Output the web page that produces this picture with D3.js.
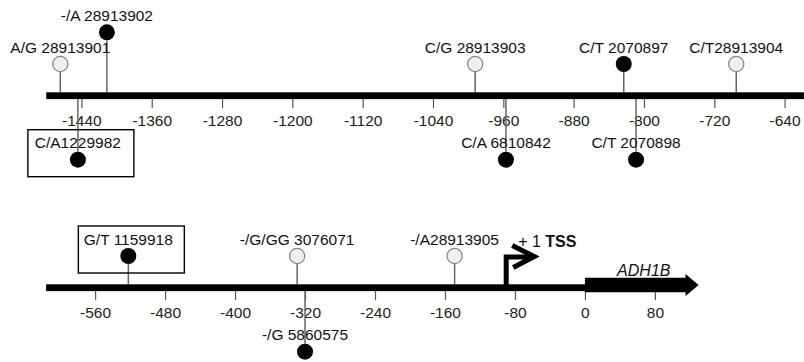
<!DOCTYPE html>
<html>
<head>
<meta charset="utf-8">
<script src="https://cdn.jsdelivr.net/npm/d3@7"></script>
<style>
  html, body { margin: 0; padding: 0; background: #fff; }
  svg { display: block; }
  text { font-family: Arial, "Liberation Sans", sans-serif; }
</style>
</head>
<body>
<svg id="chart" width="804" height="362"></svg>
<script>
// ---------- DATA ----------
const topTicks = [-1440, -1360, -1280, -1200, -1120, -1040, -960, -880, -800, -720, -640];
const bottomTicks = [-560, -480, -400, -320, -240, -160, -80, 0, 80];

const topExtent = [-1480, -618];
const bottomExtent = [-616, 1];

// SNPs: label, position, side (up/down), filled, lane (stacking row), boxed
const topSnpLabels = ["A/G 28913901", "-/A 28913902", "C/A1229982", "C/G 28913903", "C/T 2070897", "C/T28913904", "C/A 6810842", "C/T 2070898"];
const topSnpPos    = [-1464, -1411, -1444, -992, -823, -695, -957, -809];
const topSnpSide   = ["up", "up", "down", "up", "up", "up", "down", "down"];
const topSnpFilled = [false, true, true, false, true, false, true, true];
const topSnpLane   = [1, 2, 1, 1, 1, 1, 1, 1];
const topSnpBoxed  = [false, false, true, false, false, false, false, false];

const bottomSnpLabels = ["G/T 1159918", "-/G/GG 3076071", "-/G 5860575", "-/A28913905"];
const bottomSnpPos    = [-522, -329, -320, -149];
const bottomSnpSide   = ["up", "up", "down", "up"];
const bottomSnpFilled = [true, false, true, false];
const bottomSnpLane   = [1, 1, 1, 1];
const bottomSnpBoxed  = [true, false, false, false];

const tssPos = -90;
const tssLabel = ["+ 1 ", "TSS"];
const gene = { name: "ADH1B", start: 0, headStart: 115, end: 130 };

// ---------- DRAW ----------
const svg = d3.select("#chart");

const xTop = d3.scaleLinear().domain([-1440, -640]).range([81.4, 784.6]);
const xBot = d3.scaleLinear().domain([-560, 80]).range([95.1, 654.9]);

const topY = 95.7, botY = 287.7, barH = 6.8;
const laneOffset = d3.scaleOrdinal().domain(["up1", "up2", "down1"]).range([-31.7, -63.4, 64]);

function drawTrack(x, yc, extent, ticks, snps, tickPad) {
  const g = svg.append("g");
  const axis = d3.axisBottom(x).tickValues(ticks).tickSize(9).tickPadding(tickPad).tickFormat(d => String(d));
  const ag = g.append("g").attr("transform", `translate(0,${yc + barH / 2})`).call(axis);
  ag.select(".domain").remove();
  ag.selectAll(".tick line").attr("stroke", "#555").attr("stroke-width", 1.2);
  ag.selectAll(".tick text").attr("fill", "#222").style("font-size", "15.5px")
    .style("font-family", "Arial, 'Liberation Sans', sans-serif");

  snps.forEach(s => {
    const cy = yc + laneOffset(s.side + s.lane);
    const sx = x(s.pos);
    const y0 = s.side === "up" ? yc - barH / 2 : yc + barH / 2;
    const y1 = s.side === "up" ? cy + 8 : cy - 8;
    g.append("line").attr("x1", sx).attr("x2", sx).attr("y1", y0).attr("y2", y1)
      .attr("stroke", "#666").attr("stroke-width", 1.5);
  });

  g.append("rect").attr("x", x(extent[0])).attr("width", x(extent[1]) - x(extent[0]))
    .attr("y", yc - barH / 2).attr("height", barH).attr("fill", "#000");

  snps.forEach(s => {
    const cy = yc + laneOffset(s.side + s.lane);
    const sx = x(s.pos);
    g.append("circle").attr("cx", sx).attr("cy", cy).attr("r", s.filled ? 8 : 7.6)
      .attr("fill", s.filled ? "#000" : "#efefef")
      .attr("stroke", s.filled ? "#000" : "#888").attr("stroke-width", s.filled ? 0 : 1.3);
    g.append("text").attr("x", sx).attr("y", cy - 11.5).attr("text-anchor", "middle")
      .style("font-size", "15.5px").attr("fill", "#111").text(s.label);
    if (s.boxed) {
      g.append("rect").attr("x", sx - 50).attr("y", cy - 30).attr("width", 106).attr("height", 47)
        .attr("fill", "none").attr("stroke", "#000").attr("stroke-width", 1.4);
    }
  });
}

const topSnps = topSnpLabels.map((l, i) => ({ label: l, pos: topSnpPos[i], side: topSnpSide[i], filled: topSnpFilled[i], lane: topSnpLane[i], boxed: topSnpBoxed[i] }));
const botSnps = bottomSnpLabels.map((l, i) => ({ label: l, pos: bottomSnpPos[i], side: bottomSnpSide[i], filled: bottomSnpFilled[i], lane: bottomSnpLane[i], boxed: bottomSnpBoxed[i] }));

drawTrack(xTop, topY, topExtent, topTicks, topSnps, 6.5);
drawTrack(xBot, botY, bottomExtent, bottomTicks, botSnps, 6.5);

// gene arrow
const gx0 = xBot(gene.start), gxh = xBot(gene.headStart), gx1 = xBot(gene.end);
const gyc = 285;
svg.append("path")
  .attr("d", `M${gx0},${gyc - 7.3} L${gxh},${gyc - 7.3} L${gxh},${gyc - 11} L${gx1},${gyc} L${gxh},${gyc + 11} L${gxh},${gyc + 7.3} L${gx0},${gyc + 7.3} Z`)
  .attr("fill", "#000");
svg.append("text").attr("x", (gx0 + gx1) / 2 + 2).attr("y", 275.5).attr("text-anchor", "middle")
  .style("font-size", "16px").style("font-style", "italic").attr("fill", "#111").text(gene.name);

// TSS arrow
const tx = xBot(tssPos);
svg.append("path")
  .attr("d", `M${tx},${botY} L${tx},${257} L${tx + 26},${257}`)
  .attr("fill", "none").attr("stroke", "#000").attr("stroke-width", 5).attr("stroke-linejoin", "miter");
svg.append("path")
  .attr("d", `M${tx + 6},${245.5} L${tx + 28},${256.5} L${tx + 7},${267.5}`)
  .attr("fill", "none").attr("stroke", "#000").attr("stroke-width", 5).attr("stroke-linejoin", "miter");
const tt = svg.append("text").attr("x", tx + 12).attr("y", 247).style("font-size", "16px").attr("fill", "#111");
tt.append("tspan").text(tssLabel[0]);
tt.append("tspan").style("font-weight", "bold").text(tssLabel[1]);
</script>
</body>
</html>
